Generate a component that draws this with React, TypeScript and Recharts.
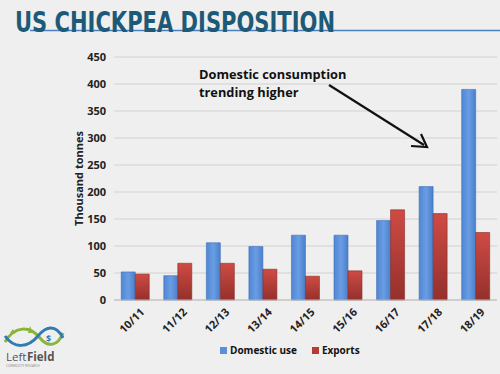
import React from "react";
import { BarChart, Bar, XAxis, YAxis, CartesianGrid } from "recharts";

const seasons = ["10/11", "11/12", "12/13", "13/14", "14/15", "15/16", "16/17", "17/18", "18/19"];
const domesticUse = [52, 45, 106, 99, 120, 120, 147, 210, 390];
const exportsVals = [48, 68, 68, 57, 44, 54, 167, 160, 125];
const yTicks = [0, 50, 100, 150, 200, 250, 300, 350, 400, 450];

const data = seasons.map((s, i) => ({ season: s, domestic: domesticUse[i], exports: exportsVals[i] }));

const FONT = "'Open Sans', 'DejaVu Sans', sans-serif";

const XTick = (props: any) => {
  const { x, y, payload } = props;
  return (
    <g transform={`translate(${x + 7},${y + 2})`}>
      <text
        textAnchor="end"
        transform="rotate(-45)"
        fontSize={11}
        fontWeight={700}
        fill="#222"
        fontFamily={FONT}
        dy={4}
      >
        {payload.value}
      </text>
    </g>
  );
};

export default function App() {
  return (
    <div style={{ position: "absolute", left: 0, top: 0, width: 500, height: 374, background: "#efefef", overflow: "hidden" }}>
      <BarChart
        width={500}
        height={374}
        data={data}
        margin={{ top: 57, right: 3, bottom: 29, left: 0 }}
        barCategoryGap="17%"
        barGap={0}
      >
        <defs>
          <linearGradient id="gBlue" x1="0" y1="0" x2="1" y2="0">
            <stop offset="0" stopColor="#4f86d4" />
            <stop offset="0.5" stopColor="#6a9de3" />
            <stop offset="1" stopColor="#4a7fcb" />
          </linearGradient>
          <linearGradient id="gRed" x1="0" y1="0" x2="0" y2="1">
            <stop offset="0" stopColor="#cf4b44" />
            <stop offset="1" stopColor="#94302c" />
          </linearGradient>
        </defs>
        <CartesianGrid vertical={false} stroke="#d2d2d2" strokeWidth={1.2} />
        <XAxis
          dataKey="season"
          height={45}
          tick={<XTick />}
          interval={0}
          axisLine={{ stroke: "#bdbdbd" }}
          tickLine={false}
        />
        <YAxis
          width={114}
          domain={[0, 450]}
          ticks={yTicks}
          interval={0}
          axisLine={false}
          tickLine={false}
          tickSize={0}
          tickMargin={8}
          tick={{ fontSize: 11, fontWeight: 700, fill: "#222", fontFamily: FONT }}
          label={{
            value: "Thousand tonnes",
            angle: -90,
            position: "insideLeft",
            dx: 74,
            dy: 0,
            style: { fontSize: 11, fontWeight: 700, fill: "#222", fontFamily: FONT, textAnchor: "middle" },
          }}
        />
        <Bar dataKey="domestic" fill="url(#gBlue)" stroke="#3f6fb8" strokeWidth={0.6} isAnimationActive={false} />
        <Bar dataKey="exports" fill="url(#gRed)" stroke="#8a2c28" strokeWidth={0.6} isAnimationActive={false} />
      </BarChart>

      <svg width={500} height={374} style={{ position: "absolute", left: 0, top: 0, pointerEvents: "none" }}>
        {/* title */}
        <line x1={30} y1={30.5} x2={500} y2={30.5} stroke="#4a7fc1" strokeWidth={1.5} />
        <text
          x={15}
          y={32}
          fontSize={29}
          fontWeight={700}
          fill="#1d5a78"
          fontFamily="'Liberation Sans Narrow', 'DejaVu Sans Condensed', 'DejaVu Sans', sans-serif"
          textLength={320}
          lengthAdjust="spacingAndGlyphs"
        >
          US CHICKPEA DISPOSITION
        </text>
        {/* annotation */}
        <text x={199} y={79} fontSize={12.8} fontWeight={700} fill="#111" fontFamily={FONT}>
          Domestic consumption
        </text>
        <text x={199} y={97} fontSize={12.8} fontWeight={700} fill="#111" fontFamily={FONT}>
          trending higher
        </text>
        <line x1={329} y1={85} x2={424} y2={145} stroke="#111" strokeWidth={2.2} />
        <polyline points="411,146 427,147 421,134" fill="none" stroke="#111" strokeWidth={2.2} />
        {/* logo */}
        <path d="M5,342 C15,325 30,326 40,338 C48,348 58,346 63,333" fill="none" stroke="#8bb43c" strokeWidth={3} />
        <path d="M5,336 C14,349 28,348 38,336 C46,326 56,324 63,338" fill="none" stroke="#2f7db0" strokeWidth={3} />
        <path d="M10,333 L13,329 L15,334 Z M28,333 L30,326 L33,333 Z" fill="#8bb43c" />
        <text x={46} y={342} fontSize={9} fontWeight={700} fill="#2f7db0" fontFamily={FONT}>$</text>
        <text x={6} y={361} fontSize={11.5} fill="#555" fontFamily={FONT}>Left</text>
        <text x={27} y={361} fontSize={11.5} fontWeight={700} fill="#555" fontFamily={FONT}>Field</text>
        <text x={6} y={367} fontSize={3} fill="#888" fontFamily={FONT}>COMMODITY RESEARCH</text>
      </svg>

      {/* legend */}
      <div
        style={{
          position: "absolute",
          top: 343,
          left: 220,
          display: "flex",
          alignItems: "center",
          fontFamily: FONT,
          fontSize: 10,
          fontWeight: 700,
          color: "#111",
          whiteSpace: "nowrap",
        }}
      >
        <span style={{ display: "inline-block", width: 7, height: 7, background: "#5b8fd9", marginRight: 3 }} />
        <span style={{ marginRight: 15 }}>Domestic use</span>
        <span style={{ display: "inline-block", width: 7, height: 7, background: "#b83a35", marginRight: 3 }} />
        <span>Exports</span>
      </div>
    </div>
  );
}
